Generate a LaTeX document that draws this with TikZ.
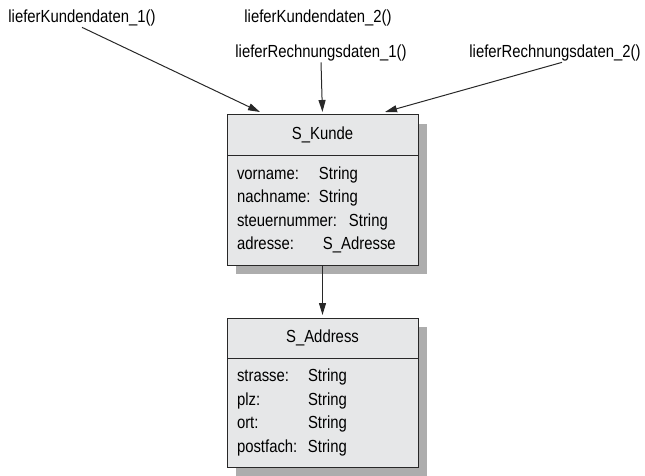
\documentclass[tikz,border=0pt]{standalone}
\usepackage{fontspec}
\setmainfont{Liberation Sans}[FakeStretch=0.85]
\usepackage{xcolor}
\usetikzlibrary{positioning,arrows.meta,shadows}
\definecolor{boxGray}{RGB}{230,231,232}
\definecolor{lineGray}{RGB}{40,40,40}
\definecolor{shadowGray}{RGB}{145,145,145}
\tikzset{
  classHead/.style={
    rectangle,
    draw=lineGray,
    line width=1pt,
    fill=boxGray,
    minimum width=191pt,
    minimum height=40pt,
    inner sep=0pt,
    outer sep=0pt,
    drop shadow={shadow xshift=9pt, shadow yshift=-9pt, fill=shadowGray, opacity=0.75}
  },
  classBody/.style={
    classHead,
    text width=171pt,
    inner xsep=10pt,
    align=left,
    minimum height=110pt
  },
  callLabel/.style={
    inner sep=1pt
  },
  arrowLine/.style={
    -{Triangle[length=12pt,width=7pt]},
    line width=1pt,
    draw=lineGray
  }
}
\begin{document}
\begin{tikzpicture}[x=1pt,y=-1pt,font=\fontsize{17.5}{23.5}\selectfont]
        \useasboundingbox (0,0) rectangle (645,476);

        % classes
        \node[classHead] (kundeHead) at (322.5,135) {S\_Kunde};
        \node[classBody, below=0pt of kundeHead] (kundeBody) {%
          \makebox[82pt][l]{vorname:}String\\
          \makebox[82pt][l]{nachname:}String\\
          \makebox[112pt][l]{steuernummer:}String\\
          \makebox[86pt][l]{adresse:}S\_Adresse};

        \node[classHead, below=53pt of kundeBody] (addrHead) {S\_Address};
        \node[classBody, below=0pt of addrHead, minimum height=109pt] (addrBody) {%
          \makebox[71pt][l]{strasse:}String\\
          \makebox[71pt][l]{plz:}String\\
          \makebox[71pt][l]{ort:}String\\
          \makebox[71pt][l]{postfach:}String};

        % calls
        \node[callLabel] (kd1) at (82,18) {lieferKundendaten\_1()};
        \node[callLabel] (kd2) at (318,18) {lieferKundendaten\_2()};
        \node[callLabel] (rd1) at (321,53) {lieferRechnungsdaten\_1()};
        \node[callLabel] (rd2) at (555,53) {lieferRechnungsdaten\_2()};

        \coordinate (inL) at (260,112);
        \coordinate (inR) at (385,112);

        \draw[arrowLine] (kd1.south) -- (inL);
        \draw[arrowLine, shorten >=3pt] (rd1.south) -- (kundeHead.north);
        \draw[arrowLine] ([xshift=7pt]rd2.south) -- (inR);
        \draw[arrowLine, shorten >=3pt] (kundeBody.south) -- (addrHead.north);
    \end{tikzpicture}
\end{document}
